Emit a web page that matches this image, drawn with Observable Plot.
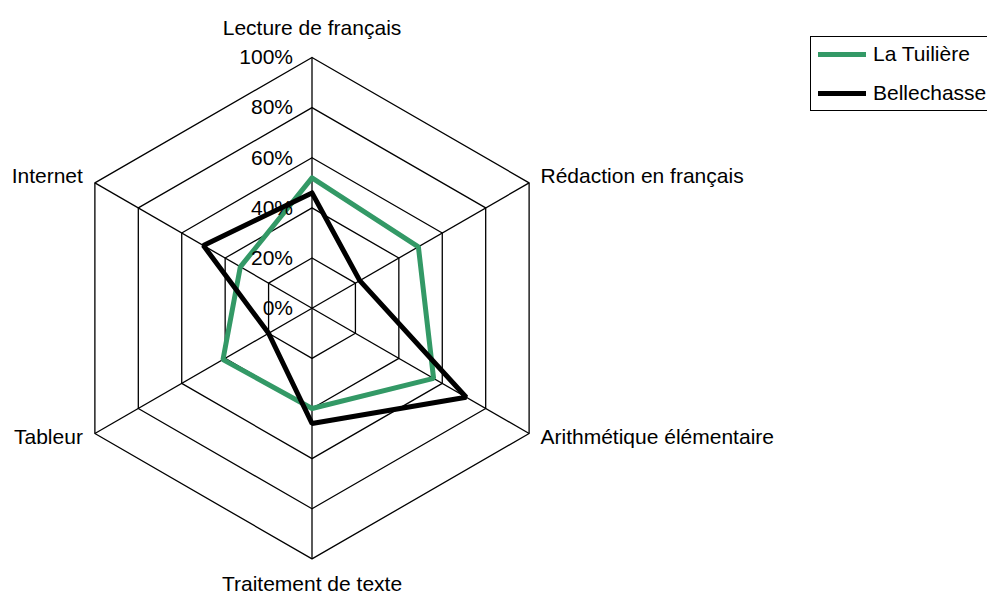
<!DOCTYPE html>
<html>
<head>
<meta charset="utf-8">
<script src="https://cdn.jsdelivr.net/npm/d3@7"></script>
<script src="https://cdn.jsdelivr.net/npm/@observablehq/plot@0.6"></script>
<style>
  html, body { margin: 0; padding: 0; background: #fff; overflow: hidden; }
  #wrap { position: relative; width: 987px; height: 595px; overflow: hidden; font-family: "Liberation Sans", Arial, sans-serif; }
  #legend { position: absolute; left: 810px; top: 36px; width: 200px; height: 75px; border: 1px solid #000; box-sizing: border-box; background: #fff; }
  .item { position: absolute; left: 7px; display: flex; align-items: center; font-size: 21px; color: #000; white-space: nowrap; }
  .swatch { width: 48px; height: 5px; margin-right: 7px; }
</style>
</head>
<body>
<div id="wrap"></div>
<script>
// ---- data ----
const categories = ["Lecture de français", "Rédaction en français", "Arithmétique élémentaire", "Traitement de texte", "Tableur", "Internet"];
const seriesNames = ["La Tuilière", "Bellechasse"];
const tuiliere = [52, 49, 56, 40, 41, 33];
const bellechasse = [46, 22, 71, 46, 20, 50];
const tickValues = [0, 20, 40, 60, 80, 100];
const tickLabels = ["0%", "20%", "40%", "60%", "80%", "100%"];
const colors = ["#339966", "#000000"];

// ---- layout ----
const W = 987, H = 595;
const CX = 311.5, CY = 307.7, R = 250.7;
const n = categories.length;
const ang = i => i * 2 * Math.PI / n;
const pt = (i, r) => [r * Math.sin(ang(i)), r * Math.cos(ang(i))];

// grid rings
const rings = [];
tickValues.filter(t => t > 0).forEach(t => {
  for (let i = 0; i <= n; i++) {
    const [x, y] = pt(i % n, t / 100);
    rings.push({ring: t, x, y});
  }
});
// spokes
const spokes = categories.map((c, i) => { const [x, y] = pt(i, 1); return {x1: 0, y1: 0, x2: x, y2: y}; });

// series polygons
const seriesData = [tuiliere, bellechasse];
const lines = [];
seriesData.forEach((vals, s) => {
  for (let i = 0; i <= n; i++) {
    const [x, y] = pt(i % n, vals[i % n] / 100);
    lines.push({series: seriesNames[s], x, y});
  }
});

// category label placement (pixel offsets from the outer vertex)
const labelOffsets = [[0, -29, "middle"], [11.4, -6.6, "start"], [11.4, 3.7, "start"], [0, 25, "middle"], [-12, 4, "end"], [-12, -6.4, "end"]];
const catLabels = categories.map((c, i) => {
  const [x, y] = pt(i, 1);
  const [ox, oy, anchor] = labelOffsets[i];
  return {label: c, x: x + ox / R, y: y - oy / R, anchor};
});

const ticks = tickValues.map((t, i) => ({x: 0, y: t / 100, label: tickLabels[i]}));

const font = "Liberation Sans, Arial, sans-serif";

const chart = Plot.plot({
  width: W,
  height: H,
  margin: 0,
  x: {domain: [-CX / R, (W - CX) / R], range: [0, W], axis: null},
  y: {domain: [-(H - CY) / R, CY / R], range: [H, 0], axis: null},
  style: {fontFamily: font, background: "#fff", overflow: "visible"},
  marks: [
    Plot.line(rings, {x: "x", y: "y", z: "ring", stroke: "#000", strokeWidth: 1.3}),
    Plot.link(spokes, {x1: "x1", y1: "y1", x2: "x2", y2: "y2", stroke: "#000", strokeWidth: 1.3}),
    Plot.line(lines.filter(d => d.series === seriesNames[0]), {x: "x", y: "y", stroke: colors[0], strokeWidth: 5, strokeLinejoin: "miter"}),
    Plot.line(lines.filter(d => d.series === seriesNames[1]), {x: "x", y: "y", stroke: colors[1], strokeWidth: 5, strokeLinejoin: "miter"}),
    Plot.text(ticks, {x: "x", y: "y", text: "label", textAnchor: "end", dx: -19, fontSize: 21, fill: "#000"}),
    Plot.text(catLabels.filter(d => d.anchor === "middle"), {x: "x", y: "y", text: "label", textAnchor: "middle", fontSize: 21, fill: "#000"}),
    Plot.text(catLabels.filter(d => d.anchor === "start"), {x: "x", y: "y", text: "label", textAnchor: "start", fontSize: 21, fill: "#000"}),
    Plot.text(catLabels.filter(d => d.anchor === "end"), {x: "x", y: "y", text: "label", textAnchor: "end", fontSize: 21, fill: "#000"})
  ]
});

const wrap = document.getElementById("wrap");
wrap.appendChild(chart);

// legend
const legend = document.createElement("div");
legend.id = "legend";
seriesNames.forEach((name, i) => {
  const item = document.createElement("div");
  item.className = "item";
  item.style.top = (i === 0 ? 5 : 44) + "px";
  const sw = document.createElement("span");
  sw.className = "swatch";
  sw.style.background = colors[i];
  const tx = document.createElement("span");
  tx.textContent = name;
  item.appendChild(sw);
  item.appendChild(tx);
  legend.appendChild(item);
});
wrap.appendChild(legend);
</script>
</body>
</html>
